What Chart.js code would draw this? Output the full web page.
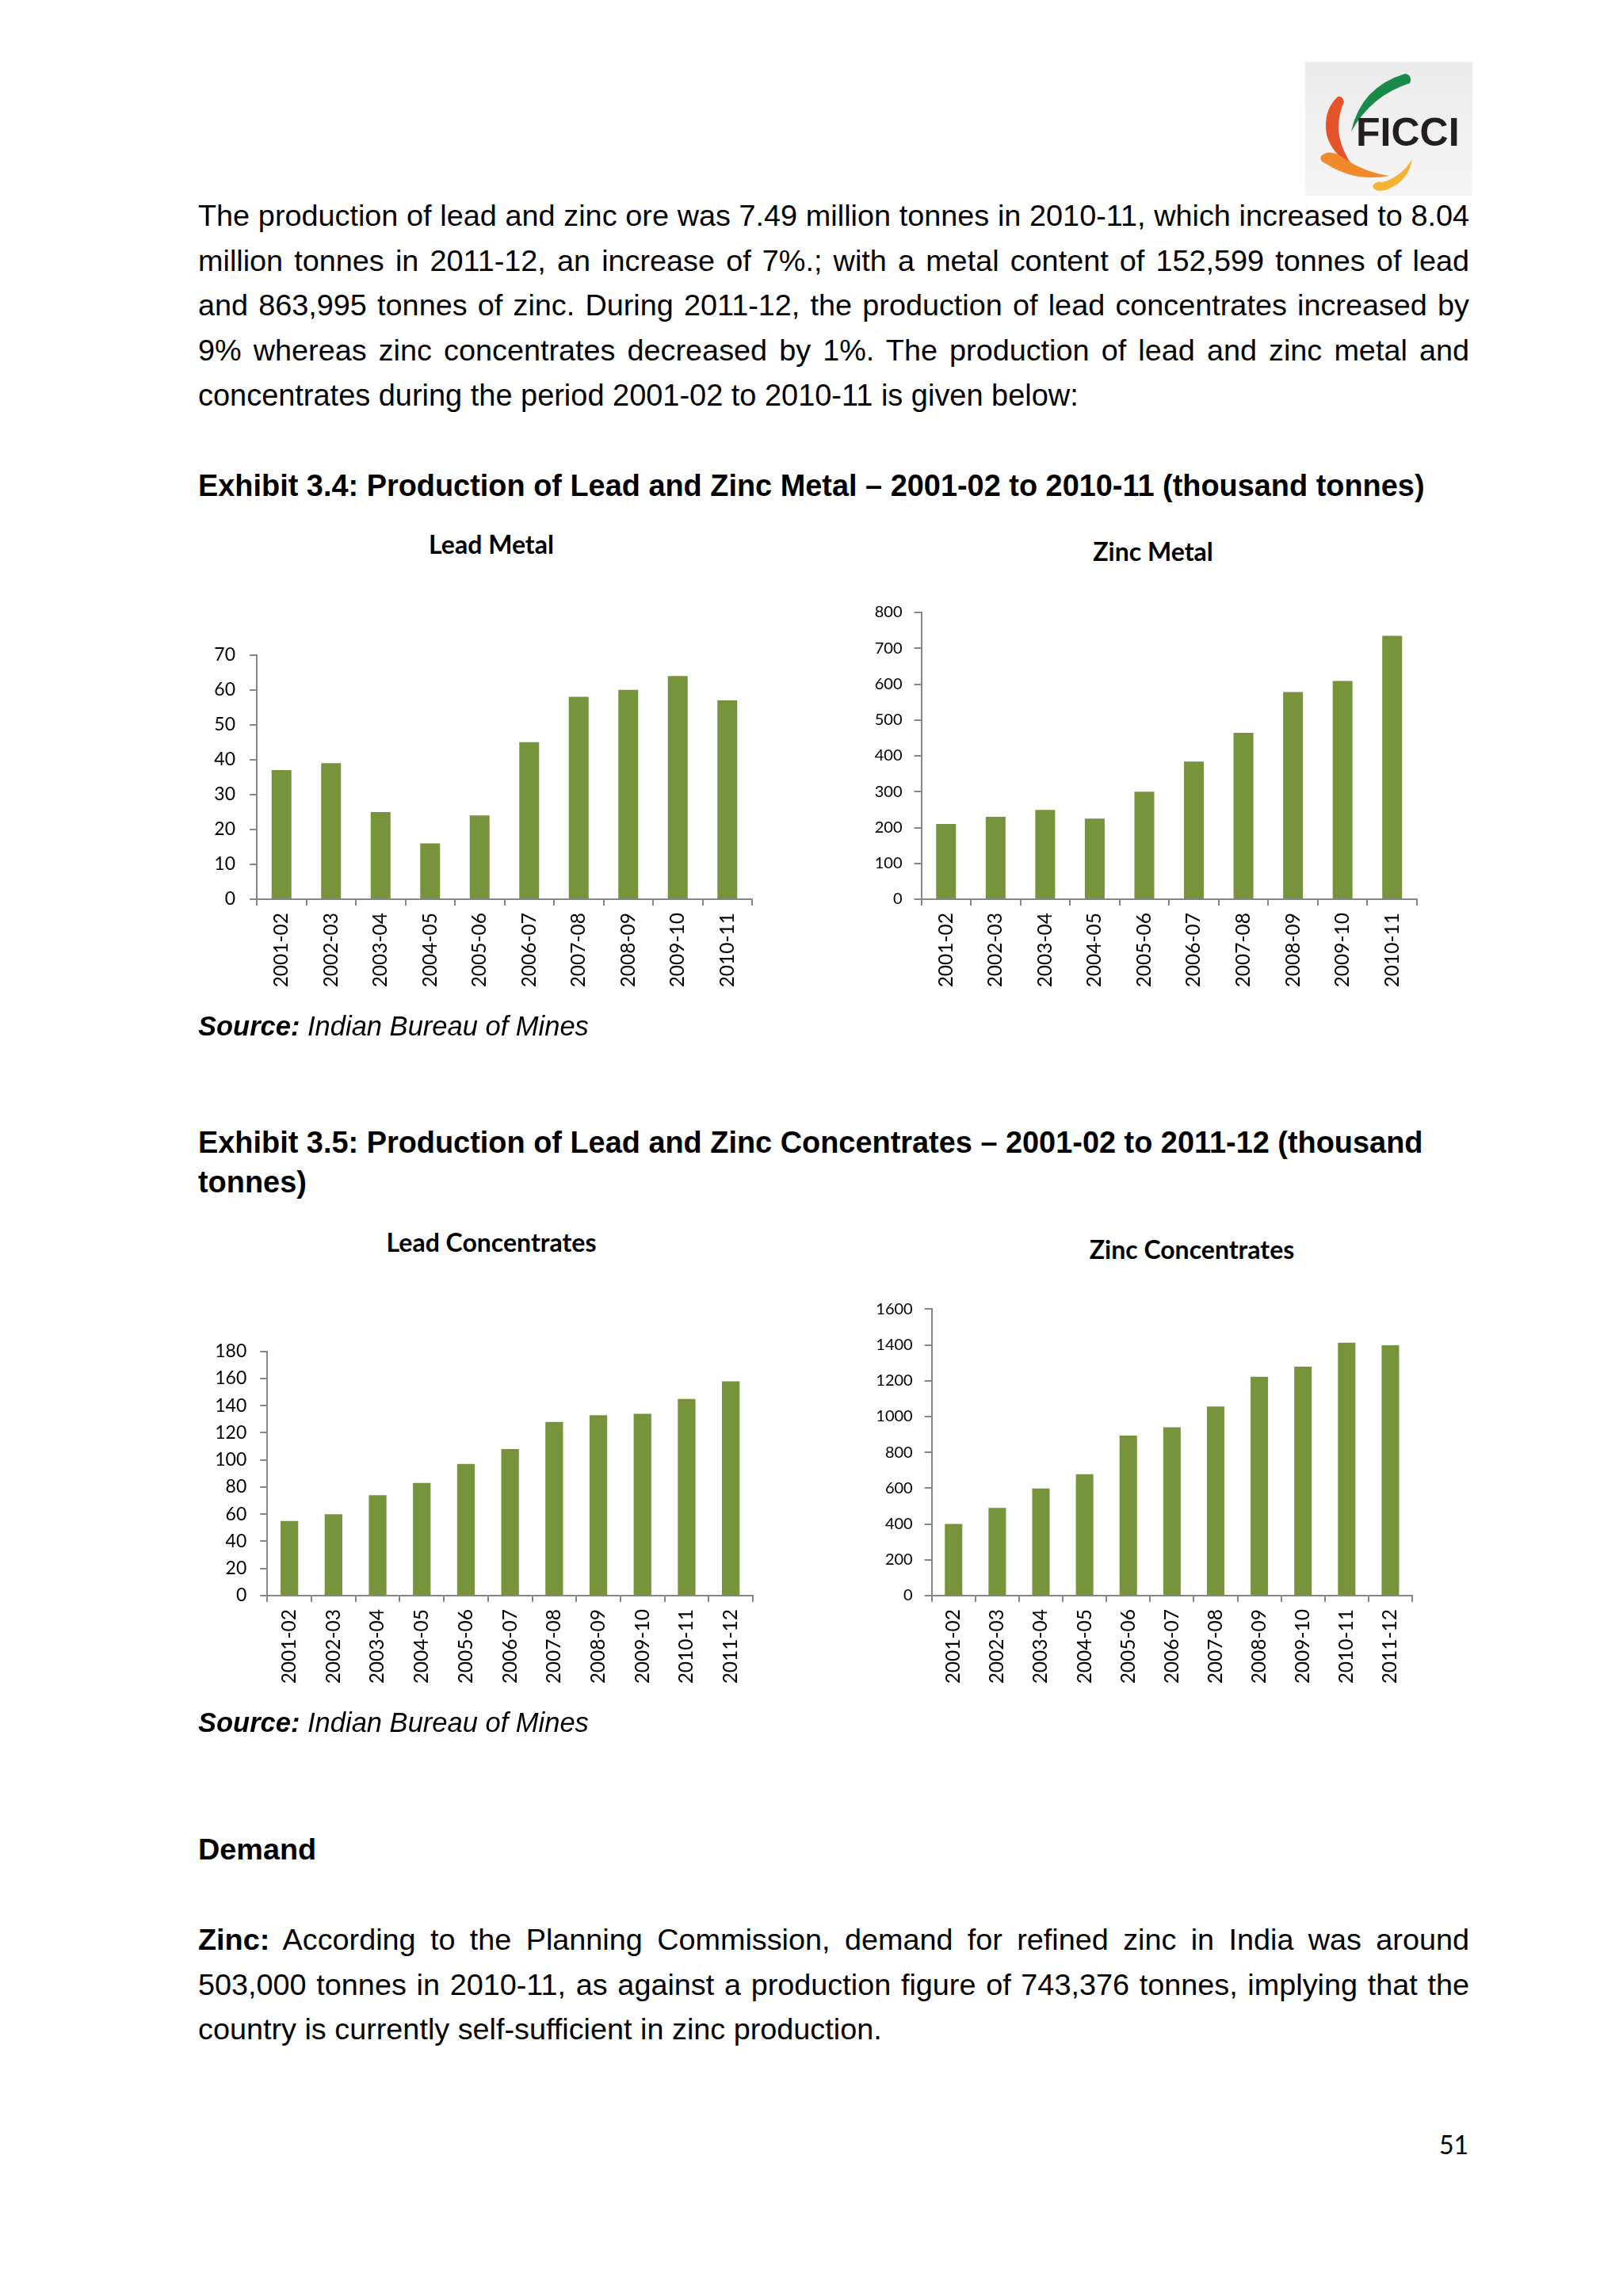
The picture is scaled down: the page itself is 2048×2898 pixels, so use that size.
<!DOCTYPE html>
<html>
<head>
<meta charset="utf-8">
<script src="https://cdn.jsdelivr.net/npm/chart.js@4.4.1/dist/chart.umd.min.js"></script>
<style>
  html, body { margin: 0; padding: 0; background: #ffffff; }
  body { width: 2048px; height: 2898px; position: relative; overflow: hidden; }
  .t { position: absolute; left: 250px; width: 1604px; font-family: "Liberation Sans", Arial, sans-serif; font-size: 37.8px; color: #000; }
  .t div { white-space: nowrap; }
  .j { text-align: justify; text-align-last: justify; word-spacing: -6px; }
  .b { font-weight: bold; }
  .src { font-size: 34.5px; }
  .ct { position: absolute; width: 600px; text-align: center; font-family: Lato, sans-serif; font-weight: bold; font-size: 32px; line-height: 40px; color: #000; }
  canvas { position: absolute; }
</style>
</head>
<body>

<svg style="position:absolute;left:1647px;top:78px" width="211" height="169" viewBox="0 0 211 169">
  <defs>
    <linearGradient id="bg" x1="0" y1="0" x2="0" y2="1">
      <stop offset="0" stop-color="#ebebeb"/>
      <stop offset="1" stop-color="#f6f6f6"/>
    </linearGradient>
  </defs>
  <rect x="0" y="0" width="211" height="169" fill="url(#bg)"/>
  <path d="M 58 88 Q 70 32 126 15 Q 136 17 132 27 Q 84 42 58 88 Z" fill="#1a8a4a"/>
  <path d="M 41 44 Q 22 62 27 92 Q 34 117 58 129 Q 42 104 42 82 Q 43 62 49 51 Q 47 42 41 44 Z" fill="#e4532a"/>
  <path d="M 20 119 Q 28 111 42 117 Q 72 139 106 144 Q 62 152 27 129 Q 17 125 20 119 Z" fill="#f08a2a"/>
  <path d="M 85 157 Q 89 150 98 152 Q 121 145 135 123 Q 130 152 101 162 Q 88 165 85 157 Z" fill="#f5b335"/>
  <text x="64" y="106" font-family="Liberation Sans, Arial, sans-serif" font-weight="bold" font-size="50" fill="#231f20">FICCI</text>
</svg>

<div class="t" style="top:244px; line-height:56.7px;">
  <div class="j">The production of lead and zinc ore was 7.49 million tonnes in 2010-11, which increased to 8.04</div>
  <div class="j">million tonnes in 2011-12, an increase of 7%.; with a metal content of 152,599 tonnes of lead</div>
  <div class="j">and 863,995 tonnes of zinc. During 2011-12, the production of lead concentrates increased by</div>
  <div class="j">9% whereas zinc concentrates decreased by 1%. The production of lead and zinc metal and</div>
  <div style="font-size:37.95px;">concentrates during the period 2001-02 to 2010-11 is given below:</div>
</div>

<div class="t b" style="top:585px; line-height:56.7px; font-size:37.9px;">
  <div>Exhibit 3.4: Production of Lead and Zinc Metal – 2001-02 to 2010-11 (thousand tonnes)</div>
</div>

<div class="ct" style="left:320px; top:667px;">Lead Metal</div>
<div class="ct" style="left:1155px; top:676px;">Zinc Metal</div>

<canvas id="c1" width="729" height="488" style="left:240px; top:787px;"></canvas>
<canvas id="c2" width="728" height="535" style="left:1080px; top:740px;"></canvas>

<div class="t src" style="top:1267px; line-height:56.7px;">
  <div><span style="font-weight:bold;font-style:italic;">Source:</span><span style="font-style:italic;"> Indian Bureau of Mines</span></div>
</div>

<div class="t b" style="top:1417px; line-height:50px; font-size:37.9px;">
  <div>Exhibit 3.5: Production of Lead and Zinc Concentrates – 2001-02 to 2011-12 (thousand</div>
  <div>tonnes)</div>
</div>

<div class="ct" style="left:320px; top:1548px;">Lead Concentrates</div>
<div class="ct" style="left:1204px; top:1557px;">Zinc Concentrates</div>

<canvas id="c3" width="730" height="488" style="left:240px; top:1666px;"></canvas>
<canvas id="c4" width="722" height="534" style="left:1080px; top:1620px;"></canvas>

<div class="t src" style="top:2146px; line-height:56.7px;">
  <div><span style="font-weight:bold;font-style:italic;">Source:</span><span style="font-style:italic;"> Indian Bureau of Mines</span></div>
</div>

<div class="t b" style="top:2306px; line-height:56.7px;">
  <div>Demand</div>
</div>

<div class="t" style="top:2420px; line-height:56.7px;">
  <div class="j"><b>Zinc:</b> According to the Planning Commission, demand for refined zinc in India was around</div>
  <div class="j">503,000 tonnes in 2010-11, as against a production figure of 743,376 tonnes, implying that the</div>
  <div>country is currently self-sufficient in zinc production.</div>
</div>

<div style="position:absolute; left:1816px; top:2687px; font-family:Lato, sans-serif; font-size:32px; line-height:40px; color:#000;">51</div>

<script>
// ---- Data ----
const yearsMetal = ["2001-02","2002-03","2003-04","2004-05","2005-06","2006-07","2007-08","2008-09","2009-10","2010-11"];
const yearsConc  = ["2001-02","2002-03","2003-04","2004-05","2005-06","2006-07","2007-08","2008-09","2009-10","2010-11","2011-12"];

const leadMetal = [37, 39, 25, 16, 24, 45, 58, 60, 64, 57];
const zincMetal = [210, 230, 249, 225, 300, 384, 464, 578, 609, 735];
const leadConc  = [55, 60, 74, 83, 97, 108, 128, 133, 134, 145, 158];
const zincConc  = [400, 490, 598, 678, 894, 940, 1056, 1222, 1278, 1412, 1398];

const leadMetalAxis = { max: 70, step: 10 };
const zincMetalAxis = { max: 800, step: 100 };
const leadConcAxis  = { max: 180, step: 20 };
const zincConcAxis  = { max: 1600, step: 200 };

// ---- Style ----
const BAR = '#77933C';
const AXIS = '#868686';

function makeChart(id, labels, values, axis, cfg) {
  const ctx = document.getElementById(id).getContext('2d');
  return new Chart(ctx, {
    type: 'bar',
    data: {
      labels: labels,
      datasets: [{
        data: values,
        backgroundColor: BAR,
        borderWidth: 0,
        barPercentage: 0.4,
        categoryPercentage: 1.0
      }]
    },
    options: {
      responsive: false,
      animation: false,
      events: [],
      layout: { padding: { top: cfg.padTop, left: 0, right: 20, bottom: 0 } },
      plugins: {
        legend: { display: false },
        tooltip: { enabled: false },
        title: { display: false }
      },
      scales: {
        x: {
          offset: true,
          grid: { display: true, offset: true, drawOnChartArea: false, drawTicks: true, tickLength: 8, color: AXIS, lineWidth: 2 },
          border: { display: true, color: AXIS, width: 2 },
          ticks: {
            autoSkip: false, minRotation: 90, maxRotation: 90, padding: 9,
            color: '#000', font: { family: 'Lato', size: cfg.xFont }
          },
          afterFit: function (s) { s.height = 140; }
        },
        y: {
          min: 0, max: axis.max,
          grid: { display: true, drawOnChartArea: false, drawTicks: true, tickLength: 9, color: AXIS, lineWidth: 2 },
          border: { display: true, color: AXIS, width: 2 },
          ticks: {
            stepSize: axis.step, padding: cfg.yPad,
            color: '#000', font: { family: 'Lato', size: cfg.yFont },
            callback: function (v) { return String(v); }
          },
          afterFit: function (s) { s.width = cfg.yWidth; }
        }
      }
    }
  });
}

makeChart('c1', yearsMetal, leadMetal, leadMetalAxis, { padTop: 39.7, yWidth: 84,   xFont: 24.5, yFont: 23, yPad: 18 });
makeChart('c2', yearsMetal, zincMetal, zincMetalAxis, { padTop: 33,   yWidth: 82.5, xFont: 24.5, yFont: 20, yPad: 15 });
makeChart('c3', yearsConc,  leadConc,  leadConcAxis,  { padTop: 39.7, yWidth: 97.3, xFont: 24.5, yFont: 23, yPad: 17 });
makeChart('c4', yearsConc,  zincConc,  zincConcAxis,  { padTop: 32.3, yWidth: 95.7, xFont: 24.5, yFont: 20, yPad: 15 });
</script>
</body>
</html>
